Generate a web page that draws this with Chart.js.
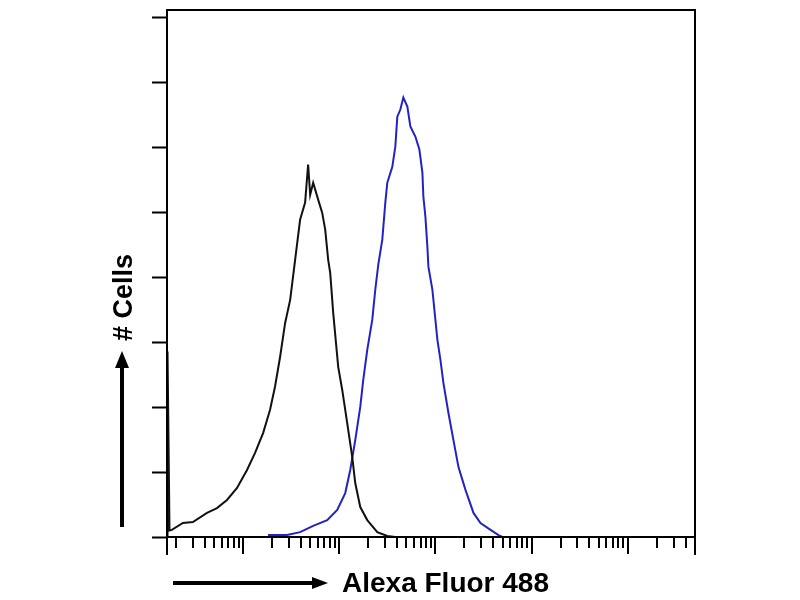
<!DOCTYPE html>
<html>
<head>
<meta charset="utf-8">
<title>Alexa Fluor 488 histogram</title>
<script src="https://cdn.jsdelivr.net/npm/chart.js@4/dist/chart.umd.min.js"></script>
<style>
  html, body { margin: 0; padding: 0; background: #fff; }
  #histo { display: block; }
</style>
</head>
<body>
<canvas id="histo" width="800" height="600"></canvas>
<script>
// fluorescence channel (log) and cell counts
const controlX = [1.62, 1.64, 1.72, 1.82, 2.37, 3.01, 4.22, 5.36, 6.81, 8.66, 11.0, 13.3, 16.2, 19.1, 21.5, 24.3, 27.4, 30.9, 34.8, 39.2, 44.2, 47.5, 49.9, 53.6, 60.4, 66.5, 71.5, 76.8, 80.6, 86.6, 97.6, 107.5, 121, 136.5, 146.8, 165.5, 195.7, 248.9, 316, 383];
const controlY = [0, 57, 2, 2.2, 4.3, 4.6, 7.4, 8.9, 11.4, 15.1, 20.6, 25.8, 32.0, 39.1, 46.2, 55.4, 65.8, 72.9, 85.2, 97.5, 102.8, 114.5, 105.2, 108.9, 103.7, 99.7, 94.5, 85.2, 81.2, 68.9, 52.3, 45.2, 35.1, 24.6, 16.6, 9.2, 5.2, 1.5, 0.3, 0];

const stainedX = [18.2, 28.7, 39.2, 53.6, 75.0, 95.3, 115.5, 130.2, 146.8, 165.5, 177.8, 195.7, 220.7, 237.1, 254.8, 280.5, 301.5, 316.2, 356.5, 383, 401.9, 431.9, 464.2, 510.9, 549.0, 619.0, 681.3, 732.5, 749.9, 786.9, 825.3, 845.7, 930.6, 1049, 1127, 1211, 1365, 1540, 1737, 2054, 2488, 2942, 3742, 4531, 4970];
const stainedY = [0.6, 0.6, 1.5, 3.4, 5.2, 8.3, 13.5, 20.6, 29.8, 40.0, 48.3, 57.5, 66.8, 76.0, 83.7, 91.4, 102.8, 108.9, 113.8, 120.0, 129.2, 131.4, 135.1, 132.3, 126.2, 123.1, 119.1, 112.0, 104.6, 98.5, 89.2, 83.1, 76.0, 60.6, 54.5, 47.4, 38.2, 29.8, 21.5, 14.5, 7.4, 4.3, 2.2, 0.6, 0];

const countTicks = [0, 20, 40, 60, 80, 100, 120, 140, 160];
const decadeTicks = [10, 100, 1000, 10000, 100000];
const minorSteps = [2, 3, 4, 5, 6, 7, 8, 9];
const xMin = 1.62;
const xMax = 500000;

const toPoints = (xs, ys) => xs.map((x, i) => ({ x: x, y: ys[i] }));

const logTicks = [];
[1, 10, 100, 1000, 10000, 100000].forEach((d) => {
  minorSteps.forEach((s) => {
    const v = s * d;
    if (v > xMin && v < xMax) logTicks.push({ value: v, major: false });
  });
});
decadeTicks.forEach((v) => logTicks.push({ value: v, major: true }));

const frame = {
  id: "frame",
  afterDraw(chart) {
    const ctx = chart.ctx;
    const area = chart.chartArea;
    const xs = chart.scales.x;
    const ys = chart.scales.y;
    ctx.save();
    ctx.strokeStyle = "#000";
    ctx.lineWidth = 2;
    ctx.strokeRect(area.left, area.top, area.right - area.left, area.bottom - area.top);

    // y ticks
    ctx.beginPath();
    countTicks.forEach((v) => {
      const py = Math.round(ys.getPixelForValue(v)) + 0.5;
      ctx.moveTo(area.left - 15, py);
      ctx.lineTo(area.left, py);
    });
    ctx.stroke();

    // x ticks: long at decades and both ends
    ctx.beginPath();
    logTicks.forEach((t) => {
      const px = Math.round(xs.getPixelForValue(t.value));
      ctx.moveTo(px, area.bottom);
      ctx.lineTo(px, area.bottom + (t.major ? 17 : 11));
    });
    [xMin, xMax].forEach((v) => {
      const px = Math.round(xs.getPixelForValue(v));
      ctx.moveTo(px, area.bottom);
      ctx.lineTo(px, area.bottom + 18);
    });
    ctx.stroke();

    // arrows
    ctx.fillStyle = "#000";
    ctx.lineWidth = 4;
    ctx.beginPath();
    ctx.moveTo(122, 527);
    ctx.lineTo(122, 364);
    ctx.moveTo(173, 583);
    ctx.lineTo(316, 583);
    ctx.stroke();
    ctx.beginPath();
    ctx.moveTo(122, 351);
    ctx.lineTo(115, 368);
    ctx.lineTo(129, 368);
    ctx.closePath();
    ctx.moveTo(328, 583);
    ctx.lineTo(312, 577);
    ctx.lineTo(312, 589);
    ctx.closePath();
    ctx.fill();

    // axis titles
    ctx.font = "bold 28px 'Liberation Sans', Arial, sans-serif";
    ctx.textBaseline = "alphabetic";
    ctx.textAlign = "left";
    ctx.fillText("Alexa Fluor 488", 342, 592);
    ctx.translate(132, 341);
    ctx.rotate(-Math.PI / 2);
    ctx.font = "bold 27px 'Liberation Sans', Arial, sans-serif";
    ctx.fillText("# Cells", 0, 0);
    ctx.restore();
  },
};

new Chart(document.getElementById("histo"), {
  type: "scatter",
  data: {
    datasets: [
      {
        label: "Control",
        data: toPoints(controlX, controlY),
        showLine: true,
        borderColor: "#111111",
        borderWidth: 2,
        pointRadius: 0,
        tension: 0,
      },
      {
        label: "Alexa Fluor 488",
        data: toPoints(stainedX, stainedY),
        showLine: true,
        borderColor: "#2323c4",
        borderWidth: 2,
        pointRadius: 0,
        tension: 0,
      },
    ],
  },
  options: {
    responsive: false,
    animation: false,
    devicePixelRatio: 1,
    layout: {
      padding: { left: 167, right: 105, top: 10, bottom: 63 },
    },
    scales: {
      x: {
        type: "logarithmic",
        min: xMin,
        max: xMax,
        afterBuildTicks: (scale) => {
          scale.ticks = logTicks.map((t) => ({ value: t.value, major: t.major }));
        },
        afterFit: (scale) => {
          scale.height = 0;
        },
        ticks: { display: false },
        grid: { display: false },
        border: { display: false },
      },
      y: {
        min: 0,
        max: 162,
        afterBuildTicks: (scale) => {
          scale.ticks = countTicks.map((v) => ({ value: v }));
        },
        afterFit: (scale) => {
          scale.width = 0;
        },
        ticks: { display: false },
        grid: { display: false },
        border: { display: false },
      },
    },
    plugins: {
      legend: { display: false },
      tooltip: { enabled: false },
      title: { display: false },
    },
  },
  plugins: [frame],
});
</script>
</body>
</html>
